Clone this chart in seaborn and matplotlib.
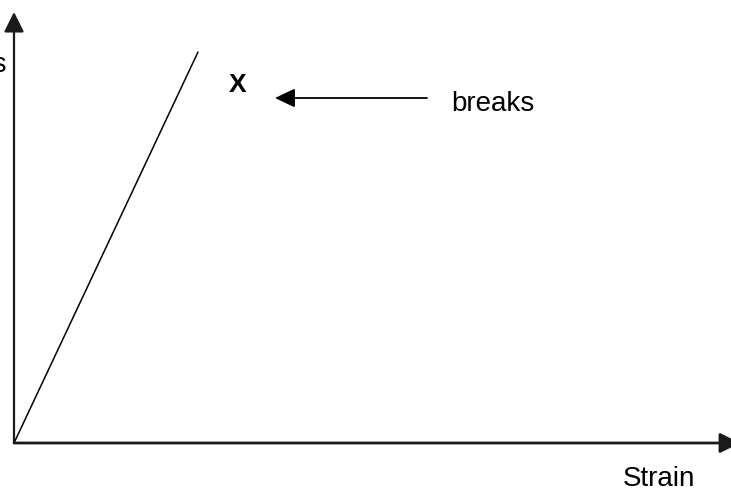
import matplotlib
matplotlib.use("Agg")
import matplotlib.pyplot as plt
import seaborn as sns
import pandas as pd

# Data (arbitrary units, origin at the axes corner)
strain = [0, 184]
stress = [0, 391]
break_x, break_y = 224, 351
x_axis_end = 726
y_axis_end = 431
labels = {"x": "Strain", "y": "Stress", "mark": "X", "note": "breaks"}

sns.set_style("white")
plt.rcParams["font.family"] = ["Liberation Sans", "DejaVu Sans"]
plt.rcParams["text.color"] = "black"

fig = plt.figure(figsize=(7.31, 4.90), dpi=100)
ax = fig.add_axes([0, 0, 1, 1])
df = pd.DataFrame({"strain": strain, "stress": stress})
sns.lineplot(data=df, x="strain", y="stress", ax=ax, color="black", linewidth=1.1)
ax.set_xlim(-14, 717)
ax.set_ylim(-47, 443)
ax.axis("off")

arrow_style = "-|>,head_length=1.22,head_width=0.61"
ax.annotate("", xy=(0, y_axis_end), xytext=(0, 0),
            arrowprops=dict(arrowstyle=arrow_style, mutation_scale=10, color="#1a1a1a",
                            lw=1.6, shrinkA=0, shrinkB=0), annotation_clip=False)
ax.annotate("", xy=(x_axis_end, 0), xytext=(0, 0),
            arrowprops=dict(arrowstyle=arrow_style, mutation_scale=10, color="#1a1a1a",
                            lw=2.0, shrinkA=0, shrinkB=0), annotation_clip=False)
ax.annotate("", xy=(261, 345), xytext=(413, 345),
            arrowprops=dict(arrowstyle="-|>,head_length=1.22,head_width=0.58", mutation_scale=10,
                            color="black", lw=1.3, shrinkA=0, shrinkB=0), annotation_clip=False)

ax.text(break_x, break_y, labels["mark"], ha="center", va="baseline", fontsize=19,
        fontweight="bold", color="black")
ax.text(437, 332, labels["note"], ha="left", va="baseline", fontsize=20, color="black")
ax.text(609, -43, labels["x"], ha="left", va="baseline", fontsize=20, color="black")
ax.text(-7, 371, labels["y"], ha="right", va="baseline", fontsize=20, color="black")

fig.savefig("out.png", dpi=100)
